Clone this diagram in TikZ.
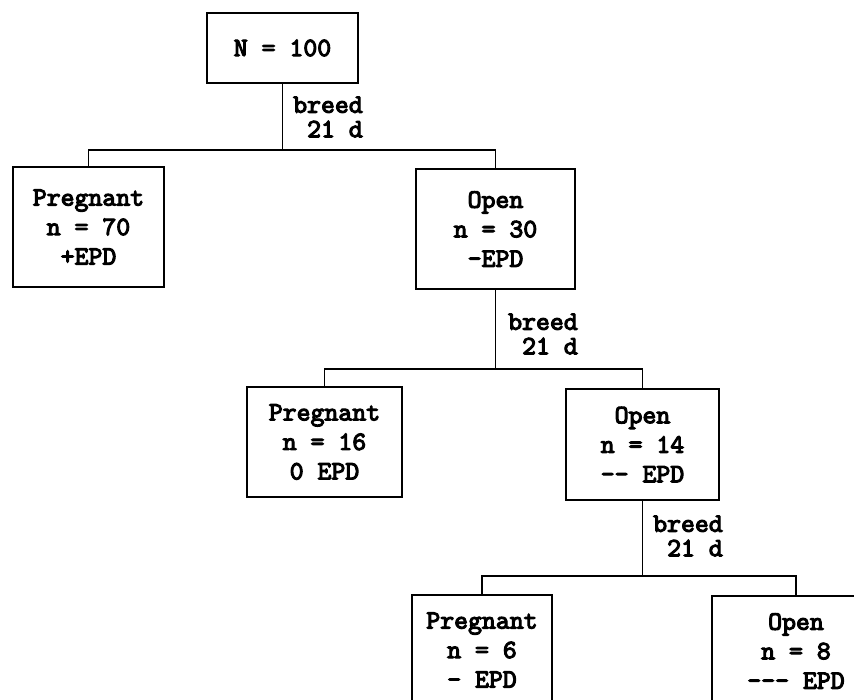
\documentclass[tikz,border=0pt]{standalone}
\usepackage{fontspec}
\setmonofont{lmmono10-regular.otf}[FakeBold=4]

\begin{document}
\begin{tikzpicture}[x=1pt,y=-1pt,
    box/.style={draw,line width=2.4pt,align=center,
        font=\ttfamily\fontsize{26.5}{29.5}\selectfont},
    lbl/.style={align=right,anchor=west,
        font=\ttfamily\fontsize{26.5}{24.5}\selectfont},
    wire/.style={line width=1.8pt}]
            \tikzstyle{every node}+=[inner sep=0pt]
            \useasboundingbox (0,0) rectangle (854,700);
            % first breeding
            \node [box,minimum width=151,minimum height=70] (n100) at (282.5,48) {N = 100};
            \node [box,minimum width=151,minimum height=120] (preg70) at (88.5,227) {Pregnant\\n = 70\\+EPD};
            \node [box,minimum width=159,minimum height=120] (open30) at (495.5,229) {Open\\n = 30\\-EPD};
            \draw [wire] (n100.south) -- ++(0,66) coordinate (bar1) -| (preg70.north);
            \draw [wire] (bar1) -| (open30.north);
            \node [lbl] (br1) at (293,117) {breed\\21 d};
            % second breeding
            \node [box,minimum width=155,minimum height=110] (preg16) at (324.5,442) {Pregnant\\n = 16\\0 EPD};
            \node [box,minimum width=153,minimum height=111] (open14) at (642.5,444.5) {Open\\n = 14\\{-}{-} EPD};
            \draw [wire] (open30.south) -- ++(0,79) coordinate (bar2) -| (preg16.north);
            \draw [wire] (bar2) -| (open14.north);
            \node [lbl] (br2) at (508,334) {breed\\21 d};
            % third breeding
            \node [box,minimum width=140,minimum height=110] (preg6) at (482,650) {Pregnant\\n = 6\\- EPD};
            \node [box,minimum width=168,minimum height=110] (open8) at (796,651) {Open\\n = 8\\{-}{-}{-} EPD};
            \draw [wire] (open14.south) -- ++(0,75) coordinate (bar3) -| (preg6.north);
            \draw [wire] (bar3) -| (open8.north);
            \node [lbl] (br3) at (653,536) {breed\\21 d};
        \end{tikzpicture}
\end{document}
